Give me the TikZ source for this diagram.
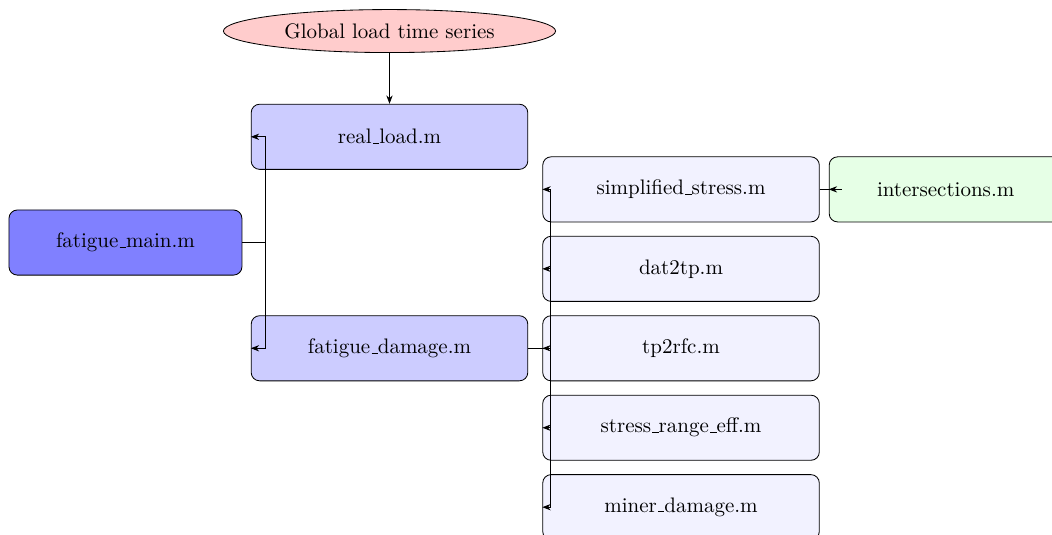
\documentclass[tikz,border=0pt]{standalone}
\usepackage{tikz}
\usetikzlibrary{shapes.geometric, arrows.meta}
\definecolor{maincolor}{RGB}{128,128,255}
\definecolor{subcolor}{RGB}{204,204,255}
\definecolor{leafcolor}{RGB}{242,242,255}
\definecolor{extcolor}{RGB}{230,255,230}
\definecolor{inputcolor}{RGB}{255,204,204}
\newcommand{\us}{\leavevmode\kern.06em\vbox{\hrule width.3em}}

\begin{document}
\begin{tikzpicture}[
    filebox/.style={draw, rounded corners=4pt, minimum width=4.63cm, minimum height=1.09cm},
    link/.style={-{Stealth[length=4pt]}}
]
    \useasboundingbox (0,0) rectangle (17.61,-8.95);
    \clip (0,0) rectangle (17.61,-8.95);

    \node[ellipse, draw, fill=inputcolor, minimum width=5.56cm, minimum height=0.72cm, inner sep=1pt] (input) at (6.52,-0.52) {Global load time series};

    \node[filebox, fill=maincolor, minimum width=3.9cm] (main) at (2.10,-4.06) {fatigue\us main.m};
    \node[filebox, fill=subcolor] (realload) at (6.52,-2.29) {real\us load.m};
    \node[filebox, fill=subcolor] (damage) at (6.52,-5.83) {fatigue\us damage.m};

    \node[filebox, fill=leafcolor] (stress) at (11.40,-3.17) {simplified\us stress.m};
    \node[filebox, fill=leafcolor] (dattp) at (11.40,-4.50) {dat2tp.m};
    \node[filebox, fill=leafcolor] (tprfc) at (11.40,-5.83) {tp2rfc.m};
    \node[filebox, fill=leafcolor] (range) at (11.40,-7.16) {stress\us range\us eff.m};
    \node[filebox, fill=leafcolor] (miner) at (11.40,-8.49) {miner\us damage.m};

    \node[filebox, fill=extcolor, minimum width=3.9cm] (inter) at (15.83,-3.17) {intersections.m};

    \draw[link] (input.south) -- (realload.north);

    \draw[link] (main.east) -- ++(0.38,0) |- (realload.west);
    \draw[link] (main.east) -- ++(0.38,0) |- (damage.west);

    \foreach \leaf in {stress, dattp, tprfc, range, miner}
        \draw[link] (damage.east) -- ++(0.37,0) |- (\leaf.west);

    \draw[link] (stress.east) -- ++(0.37,0) |- (inter.west);
\end{tikzpicture}
\end{document}
